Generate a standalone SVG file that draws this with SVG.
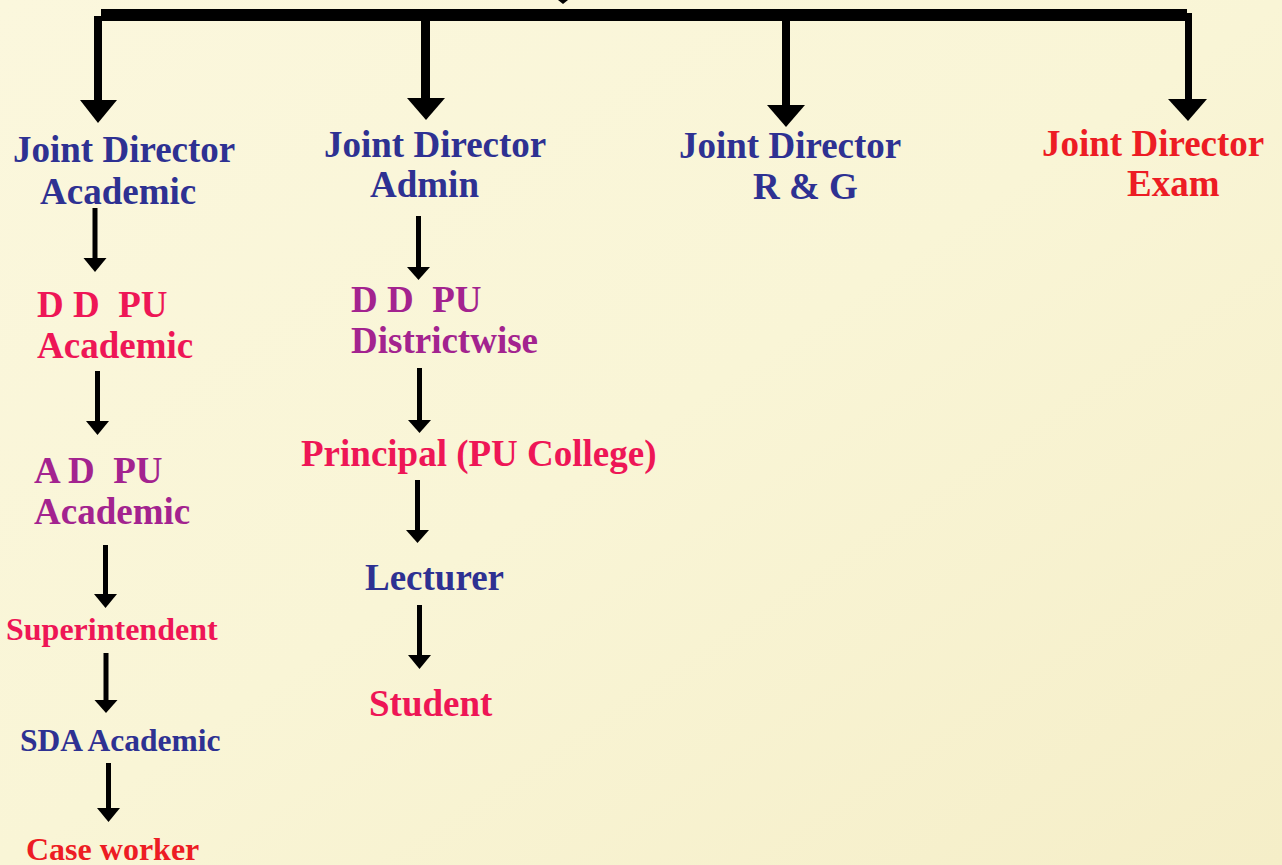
<svg xmlns="http://www.w3.org/2000/svg" width="1282" height="865" viewBox="0 0 1282 865">
  <defs>
    <linearGradient id="bg" x1="0" y1="0" x2="1" y2="1">
      <stop offset="0" stop-color="#FBF7DD"/>
      <stop offset="0.5" stop-color="#F9F5D6"/>
      <stop offset="1" stop-color="#F5EEC8"/>
    </linearGradient>
    <style>
      text { font-family: "Liberation Serif", "Times New Roman", serif; font-weight: bold; font-size: 37px; white-space: pre; }
      .sm { font-size: 32px; }
      .navy { fill: #2E3192; }
      .crimson { fill: #EE1656; }
      .purple { fill: #A3238F; }
      .red { fill: #ED1C24; }
      .big { fill: #000000; }
      .arr { fill: #000000; }
    </style>
  </defs>
  <rect x="0" y="0" width="1282" height="865" fill="url(#bg)"/>

  <g id="connectors">
    <!-- top small arrow tip -->
    <path class="big" d="M558,0 L568,0 L563,4 Z"/>
    <!-- main bar -->
    <rect class="big" x="101" y="9" width="1086" height="12"/>
    <!-- branch to Academic -->
    <rect class="big" x="94" y="16" width="8" height="86"/>
    <path class="big" d="M80,100 L117,100 L98,123 Z"/>
    <!-- branch to Admin -->
    <rect class="big" x="421" y="20" width="9" height="80"/>
    <path class="big" d="M407,98 L445,98 L426,120 Z"/>
    <!-- branch to R & G -->
    <rect class="big" x="782" y="20" width="8" height="87"/>
    <path class="big" d="M767,105 L805,105 L786,127 Z"/>
    <!-- branch to Exam -->
    <rect class="big" x="1185" y="13" width="7" height="88"/>
    <path class="big" d="M1168,99 L1207,99 L1188,121 Z"/>

    <!-- column 1 small arrows -->
    <rect class="arr" x="92.5" y="208" width="5" height="51"/>
    <path class="arr" d="M83.5,258 L106.5,258 L95,272 Z"/>
    <rect class="arr" x="95" y="371" width="5" height="51"/>
    <path class="arr" d="M86,421 L109,421 L97.5,435 Z"/>
    <rect class="arr" x="103" y="545" width="5" height="50"/>
    <path class="arr" d="M94,594 L117,594 L105.5,608 Z"/>
    <rect class="arr" x="103.5" y="653" width="5" height="48"/>
    <path class="arr" d="M94.5,700 L117.5,700 L106,713 Z"/>
    <rect class="arr" x="106" y="763" width="5" height="46"/>
    <path class="arr" d="M97,808 L120,808 L108.5,822 Z"/>

    <!-- column 2 small arrows -->
    <rect class="arr" x="416" y="216" width="5" height="52"/>
    <path class="arr" d="M407,267 L430,267 L418.5,280 Z"/>
    <rect class="arr" x="417" y="368" width="5" height="53"/>
    <path class="arr" d="M408,420 L431,420 L419.5,433 Z"/>
    <rect class="arr" x="415" y="480" width="5" height="51"/>
    <path class="arr" d="M406,530 L429,530 L417.5,543 Z"/>
    <rect class="arr" x="417" y="605" width="5" height="51"/>
    <path class="arr" d="M408,655 L431,655 L419.5,669 Z"/>
  </g>

  <g id="jd-academic">
    <text class="navy" x="13" y="162">Joint Director</text>
    <text class="navy" x="40" y="204">Academic</text>
  </g>
  <g id="dd-pu-academic">
    <text class="crimson" x="37" y="317">D D  PU</text>
    <text class="crimson" x="37" y="358">Academic</text>
  </g>
  <g id="ad-pu-academic">
    <text class="purple" x="34" y="483">A D  PU</text>
    <text class="purple" x="34" y="524">Academic</text>
  </g>
  <g id="superintendent">
    <text class="crimson sm" x="6" y="640">Superintendent</text>
  </g>
  <g id="sda-academic">
    <text class="navy sm" x="20" y="751" style="font-size:31.5px">SDA Academic</text>
  </g>
  <g id="case-worker">
    <text class="red sm" x="26" y="860">Case worker</text>
  </g>

  <g id="jd-admin">
    <text class="navy" x="324" y="157">Joint Director</text>
    <text class="navy" x="370" y="197">Admin</text>
  </g>
  <g id="dd-pu-districtwise">
    <text class="purple" x="351" y="312">D D  PU</text>
    <text class="purple" x="351" y="353">Districtwise</text>
  </g>
  <g id="principal">
    <text class="crimson" x="301" y="466">Principal (PU College)</text>
  </g>
  <g id="lecturer">
    <text class="navy" x="365" y="590">Lecturer</text>
  </g>
  <g id="student">
    <text class="crimson" x="369" y="716">Student</text>
  </g>

  <g id="jd-rg">
    <text class="navy" x="679" y="158">Joint Director</text>
    <text class="navy" x="753" y="199">R &amp; G</text>
  </g>
  <g id="jd-exam">
    <text class="red" x="1042" y="156">Joint Director</text>
    <text class="red" x="1127" y="196">Exam</text>
  </g>
</svg>
